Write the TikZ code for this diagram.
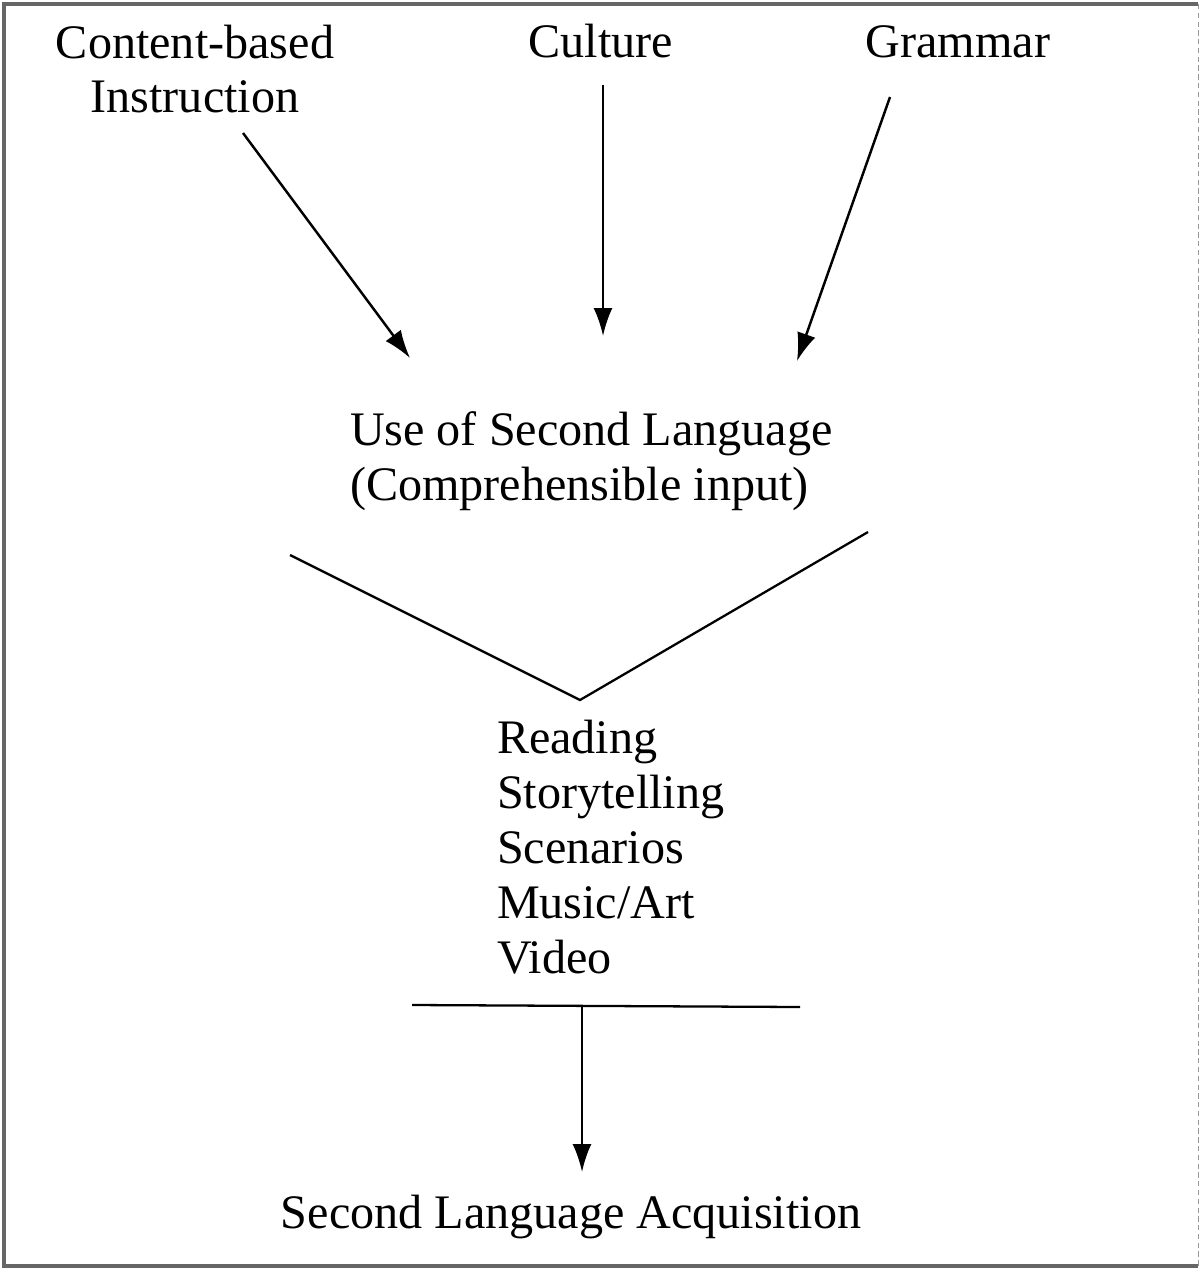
\documentclass[tikz,border=0pt]{standalone}
\usepackage{fontspec}
\setmainfont{Liberation Serif}
\usetikzlibrary{arrows.meta, positioning}
\tikzset{
  txt/.style={font=\fontsize{27.4}{31.3}\selectfont, inner sep=0pt, outer sep=0pt},
  pto/.style={-{Latex[length=5.6mm,width=3.8mm]}, line width=1.4pt},
  alin/.style={line width=1.3pt},
  rim/.style={draw=black!60, line width=2.6pt},
  thinrim/.style={draw=black!40, densely dashed, line width=0.5pt}
}

\begin{document}
\begin{tikzpicture}[x=0.02cm, y=-0.02cm]
  \useasboundingbox (0,0) rectangle (1201,1270);

  % frame
  \draw[rim] (1198,4) -- (4,4) -- (4,1266) -- (1198,1266);
  \draw[thinrim] (1198,4) -- (1198,1266);

  % sources
  \node[txt, align=center, anchor=base] (cbi) at (195,113) {Content-based\\Instruction};
  \node[txt, anchor=base] (culture) at (601,58) {Culture};
  \node[txt, anchor=base] (grammar) at (958,58) {Grammar};

  \node[txt, align=left, anchor=base west] (use) at (350,500) {Use of Second Language\\(Comprehensible input)};
  \node[txt, align=left, anchor=base west] (acts) at (497,973) {Reading\\Storytelling\\Scenarios\\Music/Art\\Video};
  \node[txt, anchor=base] (sla) at (571,1228) {Second Language Acquisition};

  \coordinate (cbi-out) at (243,133);
  \coordinate (cul-out) at (603,85);
  \coordinate (gra-out) at (890,97);
  \coordinate (use-in1) at (410,358);
  \coordinate (use-in2) at (603,336);
  \coordinate (use-in3) at (797,361);

  \draw[pto] (cbi-out) -- (use-in1);
  \draw[pto] (cul-out) -- (use-in2);
  \draw[pto] (gra-out) -- (use-in3);

  % funnel
  \coordinate (vl) at (290,555);
  \coordinate (vb) at (580,700);
  \coordinate (vr) at (868,532);
  \draw[alin] (vl) -- (vb) -- (vr);

  % bar and result
  \coordinate (hl) at (412,1005);
  \coordinate (hr) at (800,1007);
  \coordinate (hm) at (582,1006);
  \coordinate (sla-in) at (582,1172);
  \draw[alin] (hl) -- (hr);
  \draw[pto] (hm) -- (sla-in);
\end{tikzpicture}
\end{document}
